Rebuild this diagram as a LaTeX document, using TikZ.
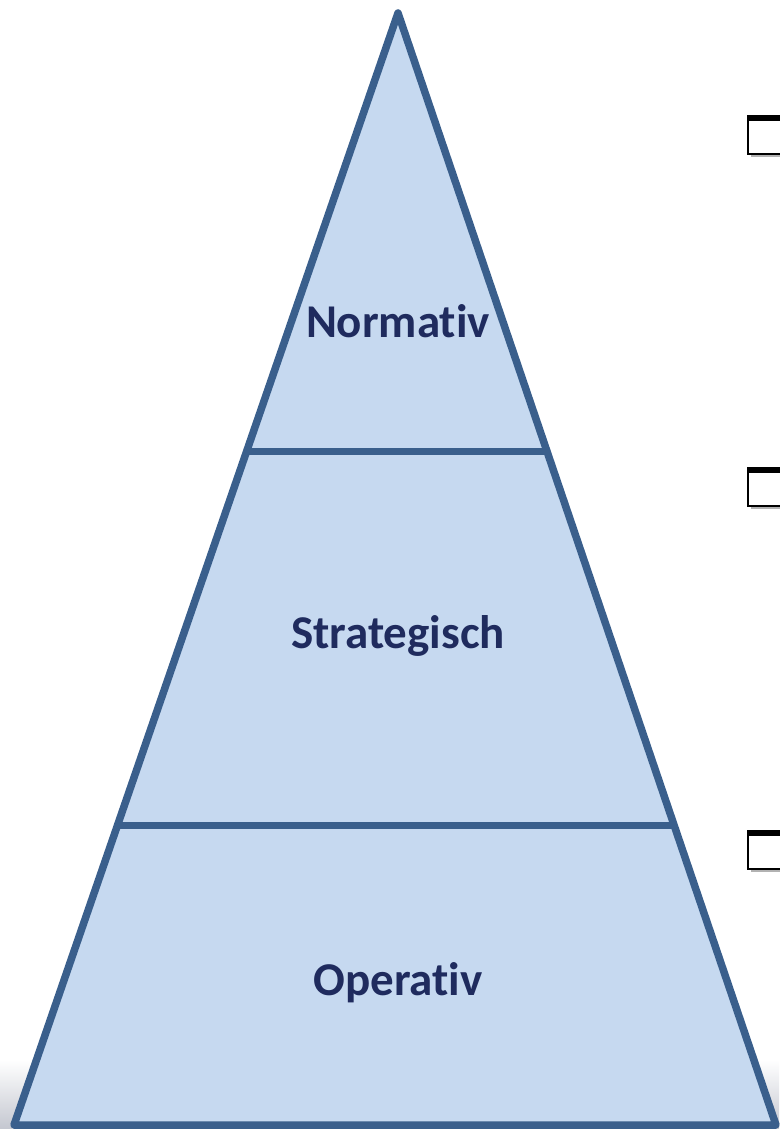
\documentclass[tikz,border=0pt]{standalone}
\usepackage{fontspec}
\setmainfont{Carlito}[Ligatures=NoCommon]
\definecolor{pfill}{HTML}{C6D9F0}
\definecolor{pline}{HTML}{3A5F8C}
\definecolor{ptext}{HTML}{1F2B5E}
\definecolor{barg}{HTML}{C4C7D0}
\begin{document}
\begin{tikzpicture}[x=1pt,y=-1pt,
  lvl/.style={font=\fontsize{47}{52}\selectfont\bfseries, text=ptext, inner sep=0pt, anchor=base},
  chk/.style={draw=black, line width=2.5pt, fill=white}]
\useasboundingbox (0,0) rectangle (779,1129);
% bottom bar
\shade[top color=white, bottom color=barg] (0,1060) rectangle (779,1129);
% pyramid
\coordinate (apex) at (398,13);
\coordinate (bl) at (14,1125);
\coordinate (br) at (776,1125);
\path (apex) -- (bl) coordinate[pos=0.3944] (l1) coordinate[pos=0.7305] (l2);
\path (apex) -- (br) coordinate[pos=0.3944] (r1) coordinate[pos=0.7305] (r2);
\filldraw[fill=pfill, draw=pline, line width=7.5pt, line join=round] (apex) -- (bl) -- (br) -- cycle;
\draw[pline, line width=6.5pt] (l1) -- (r1);
\draw[pline, line width=6.5pt] (l2) -- (r2);
\node[lvl] (n) at (398,337) {Normativ};
\node[lvl] (s) at (398,648) {Strategisch};
\node[lvl] (o) at (398,995) {Operativ};
% checkboxes
\foreach \y/\nm in {116/c1,468/c2,831/c3}{
  \fill[gray!60] (751,\y+3) rectangle (790,\y+41);
  \draw[chk] (748,\y) rectangle (790,\y+38) coordinate (\nm);
  \fill[black] (748,\y-1) rectangle (790,\y+5);
}
\end{tikzpicture}
\end{document}
